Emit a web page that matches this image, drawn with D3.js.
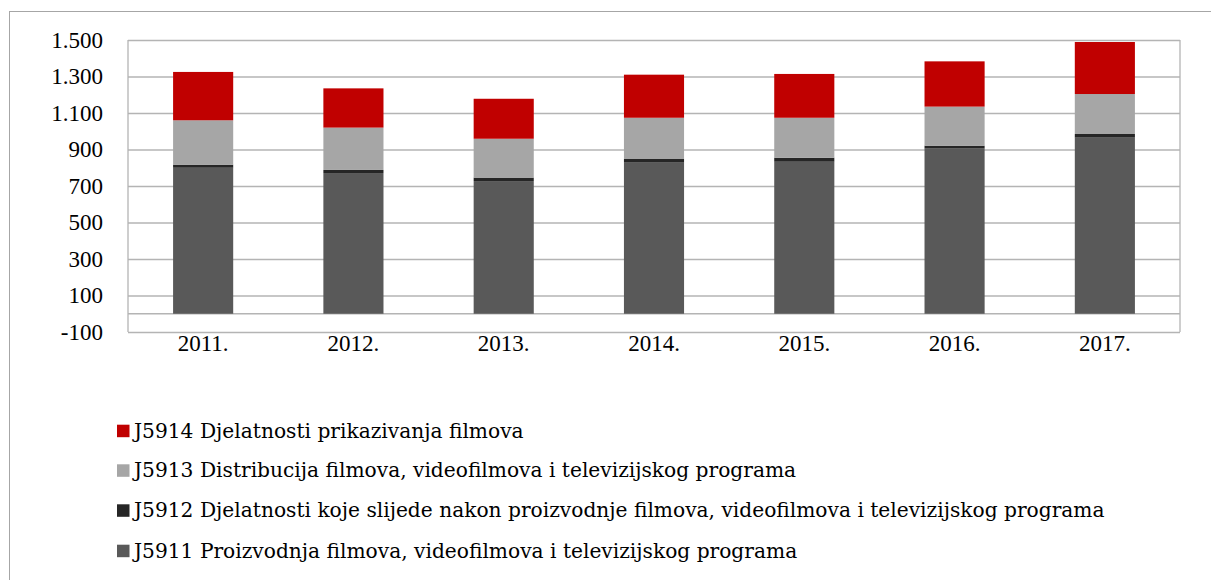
<!DOCTYPE html>
<html>
<head>
<meta charset="utf-8">
<script src="https://cdn.jsdelivr.net/npm/d3@7"></script>
<style>
  html, body { margin: 0; padding: 0; background: #fff; }
  svg { display: block; }
</style>
</head>
<body>
<svg id="chart" width="1211" height="580"></svg>
<script>
// Years on the category axis
const categories = ["2011.", "2012.", "2013.", "2014.", "2015.", "2016.", "2017."];

// Stacked series, bottom to top
const j5911 = [800, 771, 727, 828, 833, 905, 965];
const j5912 = [17, 17, 19, 20, 22, 16, 20];
const j5913 = [243, 232, 213, 226, 219, 214, 219];
const j5914 = [265, 215, 219, 236, 240, 248, 285];

const seriesNames = [
  "J5911 Proizvodnja filmova, videofilmova i televizijskog programa",
  "J5912 Djelatnosti koje slijede nakon proizvodnje filmova, videofilmova i televizijskog programa",
  "J5913 Distribucija filmova, videofilmova i televizijskog programa",
  "J5914 Djelatnosti prikazivanja filmova"
];
const seriesColors = ["#595959", "#262626", "#a6a6a6", "#c00000"];

// Value axis ticks
const yTicks = [-100, 100, 300, 500, 700, 900, 1100, 1300, 1500];

const svg = d3.select("#chart");

// Outer frame
svg.append("rect")
  .attr("x", 9.5).attr("y", 11.5)
  .attr("width", 1400).attr("height", 800)
  .attr("fill", "none").attr("stroke", "#a6a6a6").attr("stroke-width", 1);

const plot = { left: 128, right: 1180, top: 40, bottom: 332 };

const x = d3.scaleBand()
  .domain(categories)
  .range([plot.left, plot.right])
  .paddingInner(0.6)
  .paddingOuter(0.3);

const y = d3.scaleLinear()
  .domain([-100, 1500])
  .range([plot.bottom, plot.top]);

// Croatian number style: dot for thousands, plain hyphen for negatives
const hr = d3.formatLocale({ decimal: ",", thousands: ".", grouping: [3], currency: ["", ""], minus: "-" });
const fmt = hr.format(",");

// Gridlines with labels via a left axis
const yAxis = d3.axisLeft(y)
  .tickValues(yTicks)
  .tickSize(-(plot.right - plot.left))
  .tickPadding(25)
  .tickFormat(fmt);

const gy = svg.append("g")
  .attr("transform", `translate(${plot.left},0)`)
  .call(yAxis);
gy.select(".domain").remove();
gy.selectAll(".tick line").attr("stroke", "#b4b4b4").attr("stroke-width", 1.3);
gy.selectAll(".tick text")
  .attr("fill", "#000")
  .style("font-family", "'Liberation Serif', serif")
  .style("font-size", "23px");

// Plot frame and zero line
const frameColor = "#b4b4b4";
svg.append("line")
  .attr("x1", plot.left).attr("x2", plot.left)
  .attr("y1", plot.top).attr("y2", plot.bottom)
  .attr("stroke", frameColor).attr("stroke-width", 1.3);
svg.append("line")
  .attr("x1", plot.right).attr("x2", plot.right)
  .attr("y1", plot.top).attr("y2", plot.bottom)
  .attr("stroke", frameColor).attr("stroke-width", 1.3);
svg.append("line")
  .attr("x1", plot.left).attr("x2", plot.right)
  .attr("y1", y(0)).attr("y2", y(0))
  .attr("stroke", frameColor).attr("stroke-width", 1.3);

// Stacked bars
const rows = categories.map((c, i) => ({
  cat: c, a: j5911[i], b: j5912[i], c3: j5913[i], d: j5914[i]
}));
const stack = d3.stack().keys(["a", "b", "c3", "d"]);
const layers = stack(rows);

svg.append("g").selectAll("g")
  .data(layers)
  .join("g")
  .attr("fill", (d, i) => seriesColors[i])
  .selectAll("rect")
  .data(d => d)
  .join("rect")
  .attr("x", d => x(d.data.cat))
  .attr("width", x.bandwidth())
  .attr("y", d => y(d[1]))
  .attr("height", d => y(d[0]) - y(d[1]));

// Category labels
const xAxis = d3.axisBottom(x).tickSize(0).tickPadding(3);
const gx = svg.append("g")
  .attr("transform", `translate(0,${plot.bottom})`)
  .call(xAxis);
gx.select(".domain").remove();
gx.selectAll(".tick text")
  .attr("fill", "#000")
  .style("font-family", "'Liberation Serif', serif")
  .style("font-size", "23px");

// Legend (top-to-bottom: reverse stacking order)
const legendOrder = [3, 2, 1, 0];
const legendY = [430.7, 470.3, 510.3, 550.7];
const lg = svg.append("g");
legendOrder.forEach((si, k) => {
  lg.append("rect")
    .attr("x", 117).attr("y", legendY[k] - 6)
    .attr("width", 12.5).attr("height", 12.5)
    .attr("fill", seriesColors[si]);
  lg.append("text")
    .attr("x", 134).attr("y", legendY[k])
    .attr("dy", "0.35em")
    .attr("fill", "#000")
    .style("font-family", "'DejaVu Serif', serif")
    .style("font-size", "20.2px")
    .text(seriesNames[si]);
});
</script>
</body>
</html>
